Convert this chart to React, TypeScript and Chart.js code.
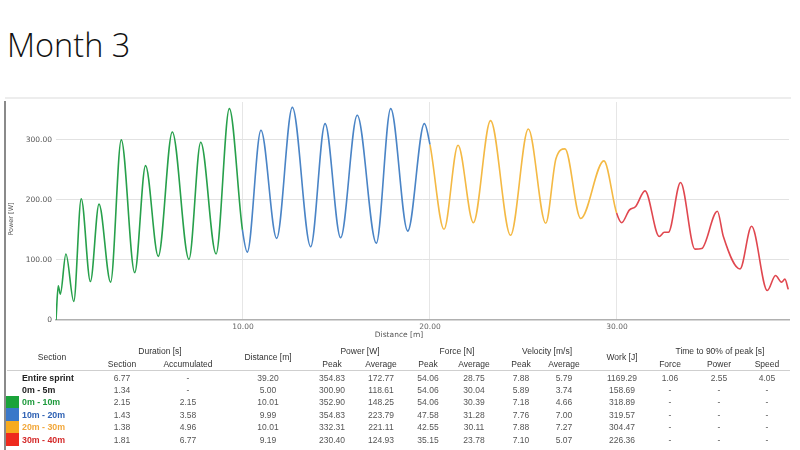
import React, { useEffect, useRef } from "react";
import { Chart, registerables } from "chart.js";

Chart.register(...registerables);

// ---- Curve data (distance [m], power [W]) per section ----
const greenDist = [0, 0.12, 0.23, 0.53, 0.95, 1.35, 1.84, 2.3, 2.92, 3.49, 4.21, 4.79, 5.47, 6.22, 7.11, 7.74, 8.56, 9.27];
const greenPower = [0, 57, 43, 110, 31, 202, 64, 193, 63, 300, 79, 257, 106, 313, 101, 296, 110, 352];
const blueDist = [9.97, 10.23, 10.96, 11.8, 12.64, 13.62, 14.39, 15.22, 16.11, 17.13, 17.9, 18.81, 19.7];
const bluePower = [150, 113, 316, 136, 354, 122, 327, 137, 341, 128, 352, 148, 327];
const orangeDist = [20.0, 20.75, 21.5, 22.32, 23.24, 24.31, 25.26, 26.19, 26.74, 27.22, 28.06, 29.3];
const orangePower = [292, 151, 291, 162, 332, 141, 318, 161, 269, 285, 169, 265];
const redDist = [29.98, 30.25, 30.66, 31.0, 31.5, 32.26, 32.53, 32.75, 33.4, 34.17, 34.53, 35.37, 35.69, 36.58, 37.2, 38.04, 38.48, 38.8, 38.98, 39.16];
const redPower = [178, 162, 183, 189, 215, 139, 146, 146, 229, 118, 119, 181, 139, 85, 156, 49, 74, 63, 68, 51];

const sectionColors = ["#27a04b", "#4a84c6", "#f4b944", "#e0474f"];
const labelColors = ["#1e9a3c", "#2f62b4", "#f2a73a", "#d42a2a"];
const swatchColors = ["#1aa33a", "#3a78c9", "#f7ab1e", "#ee2a1e"];

// axis ticks
const xTicks = [10, 20, 30];
const yTicks = [0, 100, 200, 300];

// ---- Table data ----
const rowLabels = ["Entire sprint", "0m - 5m", "0m - 10m", "10m - 20m", "20m - 30m", "30m - 40m"];
const durSection = ["6.77", "1.34", "2.15", "1.43", "1.38", "1.81"];
const durAccum = ["-", "-", "2.15", "3.58", "4.96", "6.77"];
const distance = ["39.20", "5.00", "10.01", "9.99", "10.01", "9.19"];
const powerPeak = ["354.83", "300.90", "352.90", "354.83", "332.31", "230.40"];
const powerAvg = ["172.77", "118.61", "148.25", "223.79", "221.11", "124.93"];
const forcePeak = ["54.06", "54.06", "54.06", "47.58", "42.55", "35.15"];
const forceAvg = ["28.75", "30.04", "30.39", "31.28", "30.11", "23.78"];
const velPeak = ["7.88", "5.89", "7.18", "7.76", "7.88", "7.10"];
const velAvg = ["5.79", "3.74", "4.66", "7.00", "7.27", "5.07"];
const work = ["1169.29", "158.69", "318.89", "319.57", "304.47", "226.36"];
const tForce = ["1.06", "-", "-", "-", "-", "-"];
const tPower = ["2.55", "-", "-", "-", "-", "-"];
const tSpeed = ["4.05", "-", "-", "-", "-", "-"];

const tableFont = "'Liberation Sans', Arial, sans-serif";
const chartFont = "'DejaVu Sans', Verdana, sans-serif";

function Txt(props: { x: number; y: number; text: string; align?: "c" | "l"; color?: string; bold?: boolean; size?: number; font?: string }) {
  const { x, y, text, align = "c", color = "#555", bold = false, size = 8.5, font = tableFont } = props;
  return (
    <span
      style={{
        position: "absolute",
        left: x,
        top: y,
        transform: align === "c" ? "translate(-50%, -50%)" : "translate(0, -50%)",
        whiteSpace: "nowrap",
        fontFamily: font,
        fontSize: size,
        fontWeight: bold ? 700 : 400,
        color,
        lineHeight: 1,
      }}
    >
      {text}
    </span>
  );
}

export default function App() {
  const canvasRef = useRef<HTMLCanvasElement | null>(null);

  useEffect(() => {
    const sections = [
      [greenDist, greenPower],
      [blueDist, bluePower],
      [orangeDist, orangePower],
      [redDist, redPower],
    ];
    const points: { x: number; y: number }[] = [];
    const sectionOf: number[] = [];
    sections.forEach(([d, p], si) => {
      d.forEach((x, i) => {
        points.push({ x, y: p[i] });
        sectionOf.push(si);
      });
    });

    const chart = new Chart(canvasRef.current as HTMLCanvasElement, {
      type: "line",
      data: {
        datasets: [
          {
            data: points,
            borderColor: sectionColors[0],
            borderWidth: 1.6,
            pointRadius: 0,
            fill: false,
            cubicInterpolationMode: "monotone",
            segment: {
              borderColor: (ctx: any) => sectionColors[sectionOf[ctx.p0DataIndex]],
            },
          } as any,
        ],
      },
      options: {
        animation: false,
        responsive: false,
        maintainAspectRatio: false,
        layout: { padding: { left: 0, right: 6, top: 12, bottom: 0 } },
        plugins: { legend: { display: false }, tooltip: { enabled: false }, title: { display: false } },
        scales: {
          x: {
            type: "linear",
            min: 0,
            max: 39.2,
            afterBuildTicks: (s: any) => {
              s.ticks = xTicks.map((v) => ({ value: v }));
            },
            afterFit: (s: any) => {
              s.height = 15;
            },
            grid: { color: "#e6e6e6", drawTicks: false, lineWidth: 1 },
            border: { color: "#b0b0b0", width: 1.5 },
            ticks: {
              padding: 3,
              autoSkip: false,
              maxRotation: 0,
              color: "#666",
              font: { family: chartFont, size: 7.5 },
              callback: (v: any) => Number(v).toFixed(2),
            },
          },
          y: {
            min: 0,
            max: 363,
            afterBuildTicks: (s: any) => {
              s.ticks = yTicks.map((v) => ({ value: v }));
            },
            afterFit: (s: any) => {
              s.width = 56;
            },
            grid: {
              color: (ctx: any) => (ctx.tick && ctx.tick.value === 0 ? "rgba(0,0,0,0)" : "#e2e2e2"),
              drawTicks: false,
            },
            border: { display: false },
            ticks: {
              padding: 4,
              color: "#555",
              font: { family: chartFont, size: 7.5 },
              callback: (v: any) => (Number(v) === 0 ? "0" : Number(v).toFixed(2)),
            },
          },
        },
      },
    });
    return () => chart.destroy();
  }, []);

  const rowY = (i: number) => 377.5 + i * 12.4;
  const cols: [number, string[]][] = [
    [122, durSection],
    [188, durAccum],
    [268, distance],
    [332, powerPeak],
    [381, powerAvg],
    [428, forcePeak],
    [474, forceAvg],
    [521, velPeak],
    [564, velAvg],
    [622, work],
    [670, tForce],
    [719, tPower],
    [767, tSpeed],
  ];

  return (
    <div style={{ position: "fixed", left: 0, top: 0, width: 800, height: 450, background: "#fff", overflow: "hidden" }}>
      <div
        style={{
          position: "absolute",
          left: 7,
          top: 25,
          fontFamily: "'Open Sans', sans-serif",
          fontWeight: 300,
          fontSize: 32.5,
          color: "#111",
          lineHeight: 1.2,
          whiteSpace: "nowrap",
        }}
      >
        Month 3
      </div>

      {/* top border and left bar */}
      <div style={{ position: "absolute", left: 5, top: 97, width: 786, height: 2, background: "#ededed" }} />
      <div style={{ position: "absolute", left: 4, top: 101, width: 2, height: 349, background: "#8a8a8a" }} />

      <div style={{ position: "absolute", left: 0, top: 90, width: 795, height: 245 }}>
        <canvas ref={canvasRef} width={795} height={245} style={{ display: "block", width: 795, height: 245 }} />
      </div>

      {/* axis titles */}
      <span
        style={{
          position: "absolute",
          left: 11,
          top: 219,
          transform: "translate(-50%, -50%) rotate(-90deg)",
          fontFamily: chartFont,
          fontSize: 6.5,
          color: "#555",
          whiteSpace: "nowrap",
        }}
      >
        Power [W]
      </span>
      <Txt x={399} y={335} text="Distance [m]" size={7.5} font={chartFont} color="#555" />

      {/* table headers */}
      <Txt x={52} y={357} text="Section" color="#333" />
      <Txt x={160} y={351} text="Duration [s]" color="#333" />
      <Txt x={122} y={364} text="Section" color="#333" />
      <Txt x={188} y={364} text="Accumulated" color="#333" />
      <Txt x={268} y={357} text="Distance [m]" color="#333" />
      <Txt x={360} y={351} text="Power [W]" color="#333" />
      <Txt x={332} y={364} text="Peak" color="#333" />
      <Txt x={381} y={364} text="Average" color="#333" />
      <Txt x={457} y={351} text="Force [N]" color="#333" />
      <Txt x={428} y={364} text="Peak" color="#333" />
      <Txt x={474} y={364} text="Average" color="#333" />
      <Txt x={547} y={351} text="Velocity [m/s]" color="#333" />
      <Txt x={521} y={364} text="Peak" color="#333" />
      <Txt x={564} y={364} text="Average" color="#333" />
      <Txt x={622} y={357} text="Work [J]" color="#333" />
      <Txt x={720} y={351} text="Time to 90% of peak [s]" color="#333" />
      <Txt x={670} y={364} text="Force" color="#333" />
      <Txt x={719} y={364} text="Power" color="#333" />
      <Txt x={767} y={364} text="Speed" color="#333" />

      <div style={{ position: "absolute", left: 7, top: 370, width: 783, height: 1, background: "#cfcfcf" }} />

      {/* swatches */}
      {swatchColors.map((c, i) => (
        <div key={c} style={{ position: "absolute", left: 6, top: 396 + i * 12.4, width: 13, height: 12.4, background: c }} />
      ))}

      {rowLabels.map((lab, i) => (
        <Txt key={lab} x={22} y={rowY(i)} text={lab} align="l" bold size={8.8} color={i < 2 ? "#222" : labelColors[i - 2]} />
      ))}
      {cols.map(([x, arr], ci) =>
        arr.map((v, i) => <Txt key={ci + "-" + i} x={x} y={rowY(i)} text={v} color="#555" />)
      )}
    </div>
  );
}
